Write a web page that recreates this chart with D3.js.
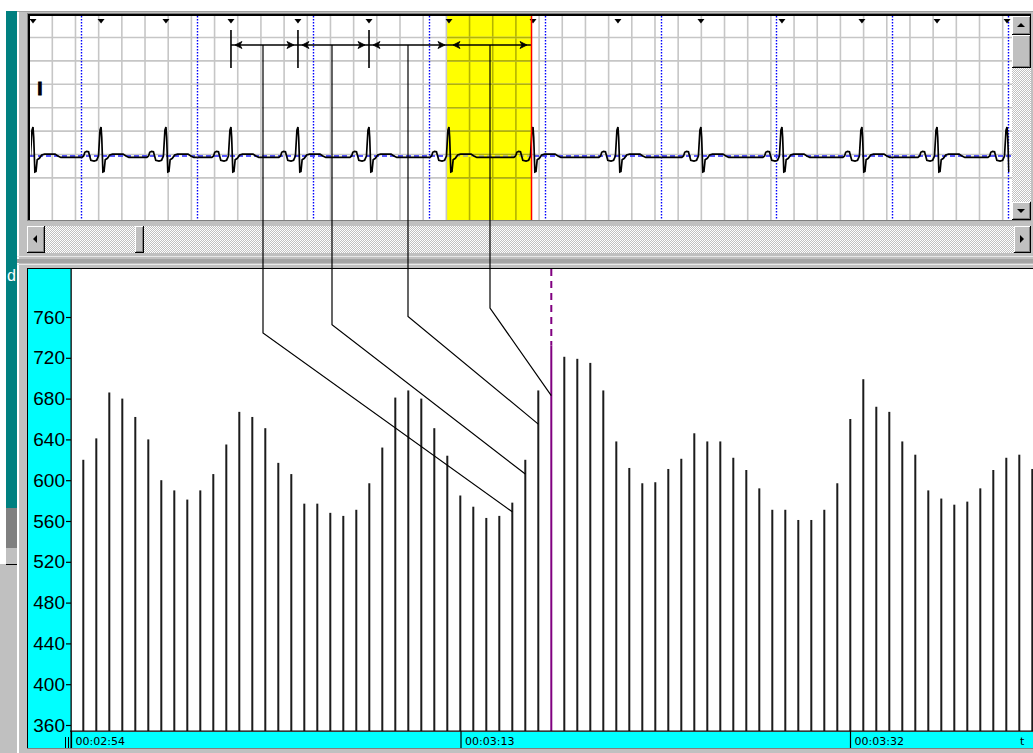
<!DOCTYPE html>
<html>
<head>
<meta charset="utf-8">
<title>RR tachogram</title>
<script src="https://cdn.jsdelivr.net/npm/d3@7/dist/d3.min.js"></script>
<style>
  html, body { margin: 0; padding: 0; background: #c0c0c0; overflow: hidden; }
  svg { display: block; }
  text { font-family: "Liberation Sans", Arial, sans-serif; }
  .rr-axis text { font-family: "Liberation Sans", Arial, sans-serif; font-size: 19px; fill: #000; }
  .time-axis text, text.time-name { font-family: "DejaVu Sans", sans-serif; font-size: 11px; fill: #000; }
</style>
</head>
<body>
<svg id="chart" width="1033" height="753"></svg>
<script>
// ---------------- data ----------------
// RR interval (ms) of each consecutive beat in the tachogram
const rrValues = [
  620, 641, 686, 680, 662, 640, 600, 590, 581, 590,
  606, 635, 667, 662, 651, 617, 606, 577, 577, 568,
  565, 571, 597, 632, 681, 688, 680, 651, 624, 585,
  574, 563, 565, 578, 620, 688, 732, 721, 719, 715,
  688, 638, 612, 597, 598, 611, 621, 646, 638, 638,
  622, 610, 592, 571, 571, 561, 561, 571, 597, 660,
  699, 672, 667, 638, 625, 590, 582, 576, 579, 592,
  610, 622, 625, 611
];
const selectedBeat = 36;                 // beat under the cursor
const rrTicks = [360, 400, 440, 480, 520, 560, 600, 640, 680, 720, 760];
const timeTicks = [174, 193, 212];       // seconds from recording start
const timeAxisName = "t";

// ECG strip: R-peak times (s), counted from the first one-second marker
const rPeaks = [-0.414, 0.173, 0.733, 1.294, 1.872, 2.485, 3.175,
                3.900, 4.633, 5.349, 6.048, 6.738, 7.386, 7.990];
const secondMarks = [0, 1, 2, 3, 4, 5, 6, 7, 8];
// one beat of lead I: [ms from R peak, mV]
const beatShape = [
  [-165, -0.03], [-150, 0.00], [-140, 0.08], [-125, 0.10], [-108, 0.09],
  [-98, 0.00], [-88, -0.09], [-60, -0.11], [-38, -0.09], [-22, 0.00],
  [-9, 0.55], [0, 0.62], [6, 0.40], [16, -0.34], [26, -0.33],
  [36, -0.08], [55, -0.05], [75, 0.02], [100, 0.04], [190, 0.04],
  [215, 0.00], [240, -0.03]
];
const leadName = "I";
// measured intervals: pairs of R-peak indices
const calipers = [[3, 4], [4, 5], [5, 6], [6, 7]];
const selectedCaliper = 3;
// tachogram beats each measured interval is linked to, and the linked level (ms)
const linkedBeats = [33, 34, 35, 36];
const linkedValues = [569, 606, 655, 683];

// ---------------- setup ----------------
const W = 1033, H = 753;
const svg = d3.select("#chart");
const defs = svg.append("defs");

const dither = defs.append("pattern").attr("id", "dither")
  .attr("width", 2).attr("height", 2).attr("patternUnits", "userSpaceOnUse");
dither.append("rect").attr("width", 2).attr("height", 2).attr("fill", "#c0c0c0");
dither.append("rect").attr("width", 1).attr("height", 1).attr("fill", "#ffffff");
dither.append("rect").attr("x", 1).attr("y", 1).attr("width", 1).attr("height", 1).attr("fill", "#ffffff");

function rect(g, x, y, w, h, fill) {
  return g.append("rect").attr("x", x).attr("y", y).attr("width", w).attr("height", h).attr("fill", fill);
}
// raised 3D button
function bevel(g, x, y, w, h) {
  rect(g, x, y, w, h, "#000");
  rect(g, x, y, w - 1, h - 1, "#fff");
  rect(g, x + 1, y + 1, w - 2, h - 2, "#808080");
  rect(g, x + 1, y + 1, w - 3, h - 3, "#c0c0c0");
}
function arrowGlyph(g, cx, cy, dir) {
  const s = 4;
  let pts;
  if (dir === "left") pts = [[cx - 2, cy], [cx + 2, cy - s], [cx + 2, cy + s]];
  if (dir === "right") pts = [[cx + 2, cy], [cx - 2, cy - s], [cx - 2, cy + s]];
  if (dir === "up") pts = [[cx, cy - 2], [cx - s, cy + 2], [cx + s, cy + 2]];
  if (dir === "down") pts = [[cx, cy + 2], [cx - s, cy - 2], [cx + s, cy - 2]];
  g.append("polygon").attr("points", pts.map(p => p.join(",")).join(" ")).attr("fill", "#000");
}

// ---------------- window frame ----------------
const chrome = svg.append("g");
rect(chrome, 0, 0, W, H, "#c0c0c0");
rect(chrome, 0, 0, W, 11, "#ffffff");
rect(chrome, 0, 11, W, 1, "#a0a0a0");
rect(chrome, 0, 11, 6, 553, "#ffffff");
rect(chrome, 6, 11, 11, 497, "#008080");
rect(chrome, 6, 508, 11, 40, "#808080");
rect(chrome, 6, 564, 11, 1, "#000");
rect(chrome, 17, 12, 2, H - 12, "#ffffff");
chrome.append("text").attr("x", 7).attr("y", 281).attr("fill", "#fff")
  .style("font-size", "16px").text("d");

// ---------------- ECG strip ----------------
const ecgLeft = 30, ecgRight = 1012, ecgTop = 16, ecgBottom = 220;
rect(chrome, 27, 13, 1004, 1, "#808080");
rect(chrome, 27, 13, 1, 208, "#808080");
rect(chrome, 28, 14, 1003, 2, "#000");
rect(chrome, 28, 14, 2, 206, "#000");

defs.append("clipPath").attr("id", "ecgClip").append("rect")
  .attr("x", ecgLeft).attr("y", ecgTop).attr("width", ecgRight - ecgLeft).attr("height", ecgBottom - ecgTop);

const xEcg = d3.scaleLinear().domain([0, 8]).range([81, 1008.2]);
const yEcg = d3.scaleLinear().domain([0, 1]).range([156, 156 - 46.8]);

const ecg = svg.append("g").attr("clip-path", "url(#ecgClip)");
rect(ecg, ecgLeft, ecgTop, ecgRight - ecgLeft, ecgBottom - ecgTop, "#ffffff");

// highlighted (selected) interval
const hlX0 = xEcg(rPeaks[calipers[selectedCaliper][0]]) - 2;
const hlX1 = xEcg(rPeaks[calipers[selectedCaliper][1]]) - 2;
rect(ecg, hlX0, ecgTop, hlX1 - hlX0, ecgBottom - ecgTop, "#ffff00");

// 0.2 s / 0.5 mV grid
const gridT = d3.range(-0.4476, 8.3, 0.2);
const gridV = d3.range(-1, 6).map(k => 0.032 + 0.5 * k);
ecg.append("g").selectAll("line").data(gridT).join("line")
  .attr("x1", d => xEcg(d)).attr("x2", d => xEcg(d))
  .attr("y1", ecgTop).attr("y2", ecgBottom)
  .attr("stroke", d => (xEcg(d) > hlX0 && xEcg(d) < hlX1) ? "#b4b400" : "#c6c6c6")
  .attr("stroke-width", 1.6);
ecg.append("g").selectAll("line").data(gridV).join("line")
  .attr("x1", ecgLeft).attr("x2", ecgRight)
  .attr("y1", d => yEcg(d)).attr("y2", d => yEcg(d))
  .attr("stroke", "#c6c6c6").attr("stroke-width", 1.6);
ecg.append("g").selectAll("line").data(gridV).join("line")
  .attr("x1", hlX0).attr("x2", hlX1)
  .attr("y1", d => yEcg(d)).attr("y2", d => yEcg(d))
  .attr("stroke", "#b4b400").attr("stroke-width", 1.6);

// one-second markers
ecg.append("g").selectAll("line").data(secondMarks).join("line")
  .attr("x1", d => Math.round(xEcg(d)) + 0.5).attr("x2", d => Math.round(xEcg(d)) + 0.5)
  .attr("y1", ecgTop).attr("y2", ecgBottom)
  .attr("stroke", "#0000ff").attr("stroke-width", 1.4).attr("stroke-dasharray", "1.5,1.5");

// isoelectric line
ecg.append("line").attr("x1", ecgLeft).attr("x2", ecgRight)
  .attr("y1", yEcg(0)).attr("y2", yEcg(0))
  .attr("stroke", "#2020ff").attr("stroke-width", 1.6).attr("stroke-dasharray", "5,3");
ecg.append("line").attr("x1", hlX0).attr("x2", hlX1)
  .attr("y1", yEcg(0)).attr("y2", yEcg(0))
  .attr("stroke", "#ffff00").attr("stroke-width", 2);
ecg.append("line").attr("x1", hlX0).attr("x2", hlX1)
  .attr("y1", yEcg(0)).attr("y2", yEcg(0))
  .attr("stroke", "#a8a8a8").attr("stroke-width", 1.5).attr("stroke-dasharray", "5,3");

// trace
const tracePts = [{ t: -0.6, v: -0.03 }];
rPeaks.forEach(p => beatShape.forEach(([ms, mv]) => tracePts.push({ t: p + ms / 1000, v: mv })));
const lastT = rPeaks[rPeaks.length - 1] + 0.022;
const trace = tracePts.filter(d => d.t <= lastT);
defs.append("clipPath").attr("id", "traceClip").append("rect")
  .attr("x", ecgLeft + 1).attr("y", ecgTop).attr("width", xEcg(lastT) - ecgLeft - 1).attr("height", ecgBottom - ecgTop);
ecg.append("path").datum(trace)
  .attr("clip-path", "url(#traceClip)")
  .attr("d", d3.line().x(d => xEcg(d.t)).y(d => yEcg(d.v)))
  .attr("fill", "none").attr("stroke", "#000").attr("stroke-width", 1.7)
  .attr("stroke-linejoin", "miter");

// lead label
ecg.append("text").attr("x", 40).attr("y", 95).attr("text-anchor", "middle")
  .style("font-size", "19px").style("font-weight", "bold")
  .attr("stroke", "#000").attr("stroke-width", 0.9).text(leadName);

// R-peak markers
ecg.append("g").selectAll("polygon").data(rPeaks).join("polygon")
  .attr("points", d => {
    const x = xEcg(d);
    return `${x - 3.5},19 ${x + 3.5},19 ${x},23.5`;
  }).attr("fill", "#000");

// calipers
const calY = 45;
const cal = ecg.append("g");
const cx0 = xEcg(rPeaks[calipers[0][0]]);
const cx1 = xEcg(rPeaks[calipers[calipers.length - 1][1]]) - 2;
cal.append("line").attr("x1", cx0).attr("x2", cx1).attr("y1", calY).attr("y2", calY)
  .attr("stroke", "#000").attr("stroke-width", 1.5);
cal.selectAll("line.tick").data(calipers.filter((c, i) => i !== selectedCaliper)).join("line")
  .attr("class", "tick")
  .attr("x1", c => xEcg(rPeaks[c[0]])).attr("x2", c => xEcg(rPeaks[c[0]]))
  .attr("y1", 30).attr("y2", 68).attr("stroke", "#000").attr("stroke-width", 1.6);
function calArrow(tip, dir) {
  const b = tip - dir * 7, n = tip - dir * 5;
  return `M${tip},${calY} L${b},${calY - 3.5} L${n},${calY} L${b},${calY + 3.5} Z`;
}
calipers.forEach((c, i) => {
  const a = xEcg(rPeaks[c[0]]);
  const b = xEcg(rPeaks[c[1]]) - (i === selectedCaliper ? 2 : 0);
  cal.append("path").attr("d", calArrow(a + 4, -1)).attr("fill", "#000").attr("stroke", "#000").attr("stroke-width", 0.8);
  cal.append("path").attr("d", calArrow(b - 4, 1)).attr("fill", "#000").attr("stroke", "#000").attr("stroke-width", 0.8);
});

// cursor at the end of the selected interval
ecg.append("line").attr("x1", hlX1 + 0.5).attr("x2", hlX1 + 0.5)
  .attr("y1", ecgTop).attr("y2", ecgBottom)
  .attr("stroke", "#ff0000").attr("stroke-width", 1.5);

// vertical scrollbar
const vs = svg.append("g");
rect(vs, 1012, 16, 19, 204, "url(#dither)");
bevel(vs, 1012, 16, 19, 19); arrowGlyph(vs, 1021, 25, "up");
bevel(vs, 1012, 35, 19, 33);
bevel(vs, 1012, 202, 19, 18); arrowGlyph(vs, 1021, 211, "down");

// horizontal scrollbar
const hs = svg.append("g");
rect(hs, 27, 220, 1004, 1, "#808080");
rect(hs, 27, 226, 1004, 27, "url(#dither)");
bevel(hs, 27, 226, 18, 27); arrowGlyph(hs, 35, 239, "left");
bevel(hs, 135, 226, 9, 27);
bevel(hs, 1014, 226, 17, 27); arrowGlyph(hs, 1022, 239, "right");
rect(hs, 17, 256, W - 17, 1, "#e8e8e8");
rect(hs, 17, 259, W - 17, 4, "#a4a4a4");
rect(hs, 17, 264, W - 17, 1, "#e8e8e8");

// ---------------- tachogram ----------------
const plotTop = 269, plotBottom = 731, plotLeft = 72;
const tach = svg.append("g");
rect(tach, 27, 268, W - 27, 1, "#000");
rect(tach, 27, 268, 1, 481, "#000");
rect(tach, 28, 269, 43, 479, "#00ffff");
rect(tach, plotLeft, plotTop, W - plotLeft, plotBottom - plotTop, "#ffffff");
rect(tach, 71, 732, W - 71, 16, "#00ffff");
rect(tach, 27, 748, W - 27, 1, "#808080");

const xBeat = d3.scaleLinear().domain([0, rrValues.length - 1]).range([83.3, 1032.3]);
const yRR = d3.scaleLinear().domain([360, 760]).range([725, 317]);

tach.append("g").selectAll("rect")
  .data(rrValues.map((v, i) => ({ v, i })).filter(d => d.i !== selectedBeat))
  .join("rect")
  .attr("x", d => xBeat(d.i) - 1).attr("width", 2)
  .attr("y", d => yRR(d.v)).attr("height", d => plotBottom - yRR(d.v))
  .attr("fill", "#1c1c1c");

// selected beat
const sx = xBeat(selectedBeat);
tach.append("rect").attr("x", sx - 1).attr("width", 2)
  .attr("y", yRR(rrValues[selectedBeat])).attr("height", plotBottom - yRR(rrValues[selectedBeat]))
  .attr("fill", "#800080");
tach.append("line").attr("x1", sx).attr("x2", sx)
  .attr("y1", plotTop).attr("y2", yRR(rrValues[selectedBeat]))
  .attr("stroke", "#800080").attr("stroke-width", 2).attr("stroke-dasharray", "7,5");

// axis baseline and frame lines
rect(tach, 70, 730.5, W - 70, 1.2, "#000");
rect(tach, 70.5, plotTop, 1.2, 748 - plotTop, "#000");
rect(tach, 65, 737, 1, 11, "#000");
rect(tach, 68, 737, 1, 11, "#000");

// y axis (RR, ms)
const yAxis = tach.append("g").attr("class", "rr-axis").attr("transform", "translate(71,0)")
  .call(d3.axisLeft(yRR).tickValues(rrTicks).tickSize(5).tickPadding(1));
yAxis.select(".domain").remove();
yAxis.selectAll(".tick line").attr("stroke", "#000").attr("stroke-width", 1.2);

// time axis
const xTime = d3.scaleLinear().domain([174, 212]).range([71, 850]);
const pad2 = n => String(n).padStart(2, "0");
const fmtTime = s => `${pad2(Math.floor(s / 3600))}:${pad2(Math.floor(s / 60) % 60)}:${pad2(s % 60)}`;
const tAxis = tach.append("g").attr("class", "time-axis").attr("transform", "translate(0,731)")
  .call(d3.axisBottom(xTime).tickValues(timeTicks).tickSize(17).tickFormat(fmtTime));
tAxis.select(".domain").remove();
tAxis.selectAll(".tick line").attr("stroke", "#000").attr("stroke-width", 1.2);
tAxis.selectAll(".tick text")
  .attr("text-anchor", "start").attr("x", 4).attr("y", 14).attr("dy", 0);
tach.append("text").attr("class", "time-name").attr("x", 1020).attr("y", 745).text(timeAxisName);

// ---------------- links from measured intervals to tachogram beats ----------------
const links = svg.append("g");
calipers.forEach((c, i) => {
  const mx = Math.round((xEcg(rPeaks[c[0]]) + xEcg(rPeaks[c[1]])) / 2) - 1;
  const bendY = plotTop + 64 - 8.3 * i;
  const ex = xBeat(linkedBeats[i]), ey = yRR(linkedValues[i]);
  links.append("path")
    .attr("d", `M${mx},${calY} V${bendY} L${ex},${ey}`)
    .attr("fill", "none").attr("stroke", "#000").attr("stroke-width", 1.2);
});
</script>
</body>
</html>
